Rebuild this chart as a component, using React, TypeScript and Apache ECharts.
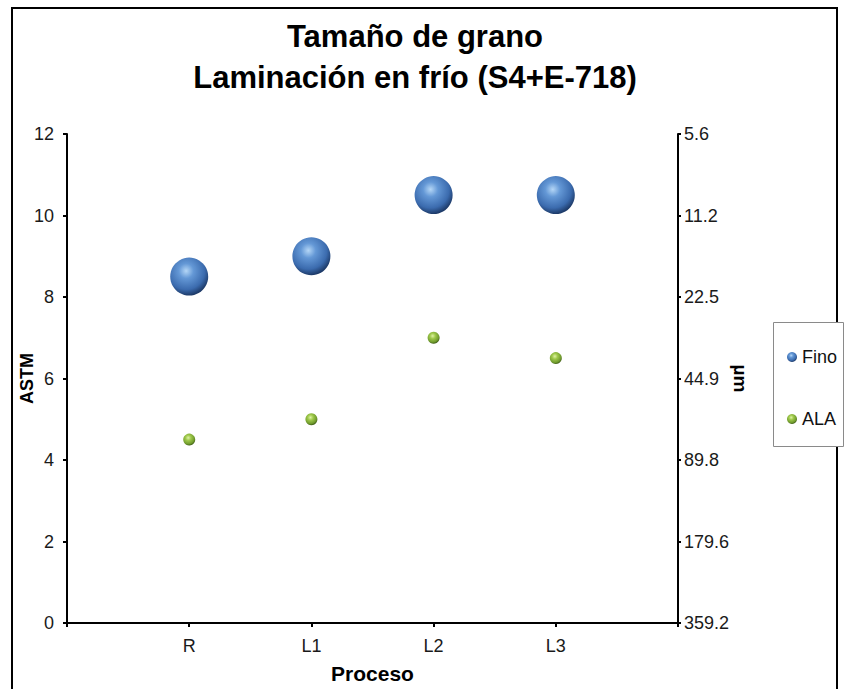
import React, { useEffect, useRef } from "react";
import * as echarts from "echarts";

const categories = ["R", "L1", "L2", "L3"];
const finoValues = [8.5, 9.0, 10.5, 10.5];
const alaValues = [4.5, 5.0, 7.0, 6.5];
const astmTicks = [0, 2, 4, 6, 8, 10, 12];
const umLabels = ["359.2", "179.6", "89.8", "44.9", "22.5", "11.2", "5.6"];

const FONT = "'Liberation Sans', Arial, sans-serif";

export default function App() {
  const ref = useRef<HTMLDivElement>(null);
  useEffect(() => {
    document.body.style.margin = "0";
    const chart = echarts.init(ref.current!, null, { renderer: "svg" });
    const blue = new echarts.graphic.RadialGradient(0.42, 0.35, 0.65, [
      { offset: 0, color: "#b4d6f6" },
      { offset: 0.3, color: "#6498d6" },
      { offset: 0.75, color: "#3b6bae" },
      { offset: 1, color: "#1d3a68" },
    ]);
    const green = new echarts.graphic.RadialGradient(0.42, 0.35, 0.65, [
      { offset: 0, color: "#dff2a4" },
      { offset: 0.35, color: "#9fc94b" },
      { offset: 0.8, color: "#6f9a2c" },
      { offset: 1, color: "#3e5c15" },
    ]);
    const xLabel = (v: number) => (v >= 1 && v <= categories.length ? categories[v - 1] : "");
    chart.setOption({
      animation: false,
      textStyle: { fontFamily: FONT },
      title: {
        text: "Tamaño de grano\nLaminación en frío (S4+E-718)",
        left: 410,
        top: 11,
        textAlign: "center",
        textStyle: {
          fontFamily: FONT,
          fontSize: 31,
          fontWeight: "bold",
          color: "#000",
          lineHeight: 41,
        },
      },
      graphic: [
        {
          type: "rect",
          shape: { x: 12, y: 8, width: 825, height: 700 },
          style: { fill: "none", stroke: "#000", lineWidth: 2 },
          silent: true,
        },
        {
          type: "rect",
          shape: { x: 773.5, y: 322.5, width: 70, height: 124 },
          style: { fill: "#fff", stroke: "#8a8a8a", lineWidth: 1 },
          silent: true,
          z: 0,
        },
      ],
      legend: {
        orient: "vertical",
        left: 782,
        top: 343,
        itemWidth: 10,
        itemHeight: 10,
        itemGap: 44,
        icon: "circle",
        textStyle: { fontFamily: FONT, fontSize: 18, color: "#111" },
        data: ["Fino", "ALA"],
        z: 5,
      },
      grid: { left: 67, right: 167, top: 134, bottom: 66, containLabel: false },
      xAxis: {
        type: "value",
        min: 0,
        max: 5,
        interval: 1,
        name: "Proceso",
        nameLocation: "middle",
        nameGap: 40,
        nameMoveOverlap: false,
        nameTextStyle: { fontFamily: FONT, fontSize: 21, fontWeight: "bold", color: "#000" },
        axisLine: { lineStyle: { color: "#000", width: 2 } },
        axisTick: { show: true, length: 4, lineStyle: { color: "#000", width: 2 } },
        axisLabel: {
          formatter: xLabel,
          margin: 14,
          fontFamily: FONT,
          fontSize: 18,
          color: "#1a1a1a",
        },
        splitLine: { show: false },
      },
      yAxis: [
        {
          type: "value",
          min: astmTicks[0],
          max: astmTicks[astmTicks.length - 1],
          interval: 2,
          position: "left",
          name: "ASTM",
          nameLocation: "middle",
          nameGap: 31,
          nameRotate: 90,
          nameMoveOverlap: false,
          nameTextStyle: { fontFamily: FONT, fontSize: 18, fontWeight: "bold", color: "#000" },
          axisLine: { show: true, lineStyle: { color: "#000", width: 2 } },
          axisTick: { show: true, length: 4, lineStyle: { color: "#000", width: 2 } },
          axisLabel: { margin: 13, fontFamily: FONT, fontSize: 18, color: "#1a1a1a" },
          splitLine: { show: false },
        },
        {
          type: "value",
          min: astmTicks[0],
          max: astmTicks[astmTicks.length - 1],
          interval: 2,
          position: "right",
          name: "µm",
          nameLocation: "middle",
          nameGap: 53,
          nameRotate: -90,
          nameMoveOverlap: false,
          nameTextStyle: { fontFamily: FONT, fontSize: 19, fontWeight: "bold", color: "#000" },
          axisLine: { show: true, lineStyle: { color: "#000", width: 2 } },
          axisTick: { show: true, length: 3, lineStyle: { color: "#000", width: 2 } },
          axisLabel: {
            margin: 6,
            fontFamily: FONT,
            fontSize: 18,
            color: "#1a1a1a",
            formatter: (v: number) => umLabels[Math.round(v / 2)] ?? "",
          },
          splitLine: { show: false },
        },
      ],
      series: [
        {
          name: "Fino",
          type: "scatter",
          yAxisIndex: 0,
          symbol: "circle",
          symbolSize: 38,
          itemStyle: { color: blue, opacity: 1 },
          data: finoValues.map((v, i) => [i + 1, v]),
          z: 3,
        },
        {
          name: "ALA",
          type: "scatter",
          yAxisIndex: 0,
          symbol: "circle",
          symbolSize: 12,
          itemStyle: { color: green, opacity: 1 },
          data: alaValues.map((v, i) => [i + 1, v]),
          z: 3,
        },
      ],
    });
    return () => chart.dispose();
  }, []);
  return (
    <div
      ref={ref}
      style={{ position: "absolute", left: 0, top: 0, width: 845, height: 689, background: "#fff" }}
    />
  );
}
